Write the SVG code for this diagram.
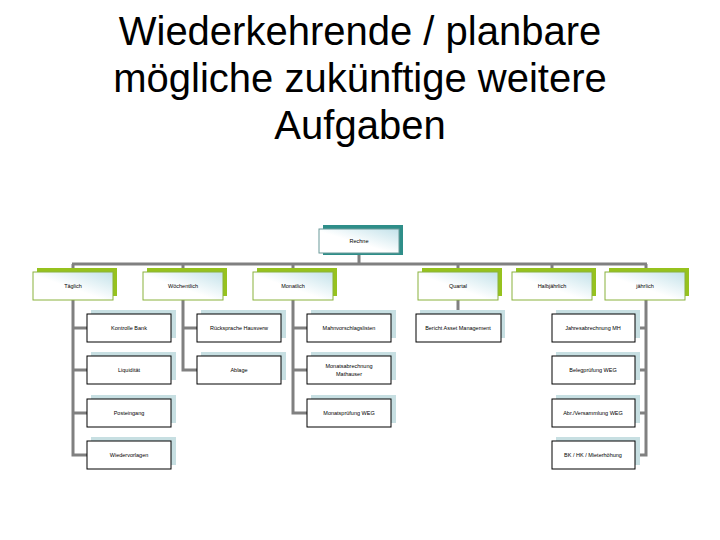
<svg xmlns="http://www.w3.org/2000/svg" width="720" height="540" viewBox="0 0 720 540">
<defs>
<linearGradient id="g" x1="0" y1="1" x2="1" y2="0">
<stop offset="0" stop-color="#ffffff"/>
<stop offset="0.45" stop-color="#ffffff"/>
<stop offset="1" stop-color="#c3e2ea"/>
</linearGradient>
</defs>
<style>
.title{font-family:"Liberation Sans",Arial,sans-serif;font-size:40px;fill:#000;text-anchor:middle}
.t{font-family:"Liberation Sans",Arial,sans-serif;font-size:5.5px;fill:#000;text-anchor:middle}
.top-sh{fill:#2e8e89}
.top-bx{fill:url(#g);stroke:#6a9a9a;stroke-width:1}
.l2-sh{fill:#96c21e}
.l2-bx{fill:url(#g);stroke:#8ab23c;stroke-width:1}
.c-sh{fill:#c7dfe2}
.c-bx{fill:#fff;stroke:#000;stroke-width:1}
.con{fill:none;stroke:#808080;stroke-width:3}
</style>
<rect width="720" height="540" fill="#fff"/>
<text class="title" x="360" y="45">Wiederkehrende / planbare</text>
<text class="title" x="360" y="92">mögliche zukünftige weitere</text>
<text class="title" x="360" y="139">Aufgaben</text>

<g id="connectors">
<path class="con" d="M359 254V264M72 264H647"/>
<path class="con" d="M73 264V455H87M73 328H87M73 370H87M73 413H87"/>
<path class="con" d="M183 264V370H197M183 328H197"/>
<path class="con" d="M293 264V413H307M293 328H307M293 370H307"/>
<path class="con" d="M458 264V314"/>
<path class="con" d="M552 264V272"/>
<path class="con" d="M646 264V455H635M646 328H635M646 370H635M646 413H635"/>
</g>

<g id="n-rechne"><rect class="top-sh" x="323" y="225" width="80" height="30"/><rect class="top-bx" x="319" y="229" width="80" height="24"/><text class="t" x="359" y="243">Rechne</text></g>

<g id="n-taeglich"><rect class="l2-sh" x="37" y="268" width="80" height="28"/><rect class="l2-bx" x="33" y="272" width="80" height="28"/><text class="t" x="73" y="288">Täglich</text></g>
<g id="n-woechentlich"><rect class="l2-sh" x="147" y="268" width="80" height="28"/><rect class="l2-bx" x="143" y="272" width="80" height="28"/><text class="t" x="183" y="288">Wöchentlich</text></g>
<g id="n-monatlich"><rect class="l2-sh" x="257" y="268" width="80" height="28"/><rect class="l2-bx" x="253" y="272" width="80" height="28"/><text class="t" x="293" y="288">Monatlich</text></g>
<g id="n-quartal"><rect class="l2-sh" x="422" y="268" width="80" height="28"/><rect class="l2-bx" x="418" y="272" width="80" height="28"/><text class="t" x="458" y="288">Quartal</text></g>
<g id="n-halbjaehrlich"><rect class="l2-sh" x="516" y="268" width="80" height="28"/><rect class="l2-bx" x="512" y="272" width="80" height="28"/><text class="t" x="552" y="288">Halbjährlich</text></g>
<g id="n-jaehrlich"><rect class="l2-sh" x="609" y="268" width="80" height="28"/><rect class="l2-bx" x="605" y="272" width="80" height="28"/><text class="t" x="645" y="288">jährlich</text></g>

<g id="n-kontrolle"><rect class="c-sh" x="91" y="310" width="85" height="28"/><rect class="c-bx" x="87" y="314" width="84" height="28"/><text class="t" x="129" y="330">Kontrolle Bank</text></g>
<g id="n-liquiditaet"><rect class="c-sh" x="91" y="352" width="85" height="28"/><rect class="c-bx" x="87" y="356" width="84" height="28"/><text class="t" x="129" y="372">Liquidität</text></g>
<g id="n-posteingang"><rect class="c-sh" x="91" y="395" width="85" height="28"/><rect class="c-bx" x="87" y="399" width="84" height="28"/><text class="t" x="129" y="415">Posteingang</text></g>
<g id="n-wiedervorlagen"><rect class="c-sh" x="91" y="437" width="85" height="28"/><rect class="c-bx" x="87" y="441" width="84" height="28"/><text class="t" x="129" y="457">Wiedervorlagen</text></g>

<g id="n-ruecksprache"><rect class="c-sh" x="201" y="310" width="85" height="28"/><rect class="c-bx" x="197" y="314" width="84" height="28"/><text class="t" x="239" y="330">Rücksprache Hausverw</text></g>
<g id="n-ablage"><rect class="c-sh" x="201" y="352" width="85" height="28"/><rect class="c-bx" x="197" y="356" width="84" height="28"/><text class="t" x="239" y="372">Ablage</text></g>

<g id="n-mahn"><rect class="c-sh" x="311" y="310" width="85" height="28"/><rect class="c-bx" x="307" y="314" width="84" height="28"/><text class="t" x="349" y="330">Mahnvorschlagslisten</text></g>
<g id="n-monatsabr"><rect class="c-sh" x="311" y="352" width="85" height="28"/><rect class="c-bx" x="307" y="356" width="84" height="28"/><text class="t" x="349" y="368">Monatsabrechnung</text><text class="t" x="349" y="376">Mathauser</text></g>
<g id="n-monatspr"><rect class="c-sh" x="311" y="395" width="85" height="28"/><rect class="c-bx" x="307" y="399" width="84" height="28"/><text class="t" x="349" y="415">Monatsprüfung WEG</text></g>

<g id="n-bericht"><rect class="c-sh" x="420" y="310" width="85" height="28"/><rect class="c-bx" x="416" y="314" width="85" height="28"/><text class="t" x="458" y="330">Bericht Asset Management</text></g>

<g id="n-jahresabr"><rect class="c-sh" x="556" y="310" width="84" height="28"/><rect class="c-bx" x="552" y="314" width="83" height="28"/><text class="t" x="593" y="330">Jahresabrechnung MH</text></g>
<g id="n-belegpr"><rect class="c-sh" x="556" y="352" width="84" height="28"/><rect class="c-bx" x="552" y="356" width="83" height="28"/><text class="t" x="593" y="372">Belegprüfung WEG</text></g>
<g id="n-abr"><rect class="c-sh" x="556" y="395" width="84" height="28"/><rect class="c-bx" x="552" y="399" width="83" height="28"/><text class="t" x="593" y="415">Abr./Versammlung WEG</text></g>
<g id="n-bk"><rect class="c-sh" x="556" y="437" width="84" height="28"/><rect class="c-bx" x="552" y="441" width="83" height="28"/><text class="t" x="593" y="457">BK / HK / Mieterhöhung</text></g>
</svg>
